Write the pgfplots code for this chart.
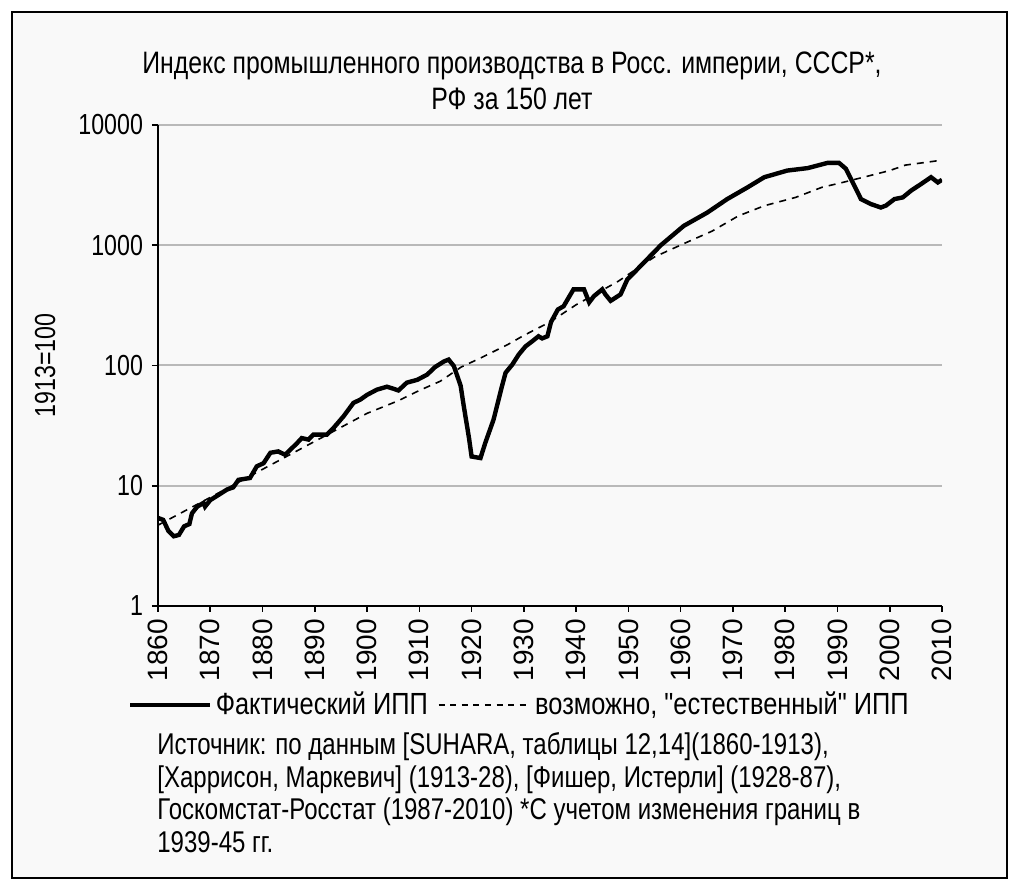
\documentclass[border=0pt]{standalone}
\usepackage{pgfplots}
\pgfplotsset{compat=1.18}
\usepackage{fontspec}
\setmainfont{Liberation Sans}[FakeStretch=0.8]
\newfontfamily\widefont{Liberation Sans}[FakeStretch=0.83]
\newfontfamily\tickfont{Liberation Sans}

% фактический индекс (1913=100)
\pgfplotstableread{
year val
1860 5.4
1861 5.2
1862 4.2
1863 3.8
1864 3.9
1865 4.6
1866 4.8
1866.5 5.9
1867.5 6.7
1868.7 7.2
1869 6.7
1870 7.6
1871.6 8.4
1873.2 9.3
1874.4 9.7
1875.4 11.2
1877.6 11.6
1878.9 14.5
1880.2 15.4
1881.5 18.8
1883 19.3
1884.3 18.1
1885.3 19.9
1886.6 22.6
1887.5 24.9
1888.8 24.2
1889.7 26.6
1892.3 26.6
1893.6 30.3
1895.5 37.8
1897.4 48.9
1898.7 52
1900 57
1901.9 63
1903.8 66.6
1905.1 64
1906 62
1907.6 72
1909.6 76
1911.5 84
1913 97
1914.7 108
1915.6 112
1916.6 99
1917.9 68
1918.5 46
1919.5 25
1920 17.5
1921.7 17
1922.6 22.6
1924.2 35.5
1925.8 67
1926.5 87
1927.8 102
1929 123
1930.3 144
1931.6 159
1932.8 175
1933.5 168
1934.5 175
1935.2 230
1936.5 292
1937.6 311
1939.5 430
1941.5 430
1942.5 335
1943.4 377
1945 430
1945.6 390
1946.6 345
1948.5 390
1949.8 520
1952.3 670
1956.2 1000
1960.6 1450
1965.1 1870
1968.9 2420
1972.8 3030
1976 3680
1980.4 4180
1984.3 4380
1988.1 4840
1990.3 4840
1991.6 4330
1993.2 3150
1994.5 2420
1996.4 2200
1998.3 2060
1999.3 2140
2000.9 2420
2002.5 2500
2004.1 2850
2006 3230
2007.9 3680
2009.2 3330
2010 3500
}\fact

% "естественный" индекс
\pgfplotstableread{
year val
1860 4.7
1870 8.0
1880 13.7
1890 23.4
1900 40
1906 51
1910 62
1914 74
1918 97
1922 117
1927 150
1930 178
1935 230
1940 320
1948 500
1955 800
1961 1050
1966 1310
1971 1750
1976 2130
1982 2500
1987 3030
1991 3330
1995 3680
2000 4180
2003 4640
2010 5100
}\natur

\begin{document}
\begin{tikzpicture}
  % фон и рамка (1 px = 0.5pt)
  \fill[white] (0pt,0pt) rectangle (512pt,-446.5pt);
  \draw[line width=1pt, fill=gray!5] (6pt,-6pt) rectangle (503.5pt,-439pt);

  \node[align=center, font=\fontsize{15.5}{16}\selectfont] at (256pt,-40.5pt)
    {Индекс промышленного производства в Росс. империи, СССР*,\\[2pt]РФ за 150 лет};

  \begin{axis}[
      at={(79pt,-303pt)}, anchor=south west,
      scale only axis, width=392pt, height=240.5pt,
      ymode=log, xmin=1860, xmax=2010, ymin=1, ymax=10000,
      axis x line*=bottom, axis y line*=left,
      axis line style={line width=1pt, -},
      xtick={1860,1870,...,2010},
      ytick={1,10,100,1000,10000},
      yticklabels={1,10,100,1000,10000},
      yminorticks=false,
      tick align=outside, major tick length=3pt,
      tick style={black, line width=0.8pt},
      ymajorgrids, grid style={gray!55, line width=1pt},
      /pgf/number format/assume math mode=true,
      /pgf/number format/1000 sep={},
      yticklabel style={font=\fontsize{14.5}{15}\selectfont, xshift=-1pt},
      xticklabel style={font=\tickfont\fontsize{14}{14}\selectfont, rotate=90, anchor=east},
      ylabel={1913=100},
      every axis y label/.style={at={(axis description cs:-0.144,0.5)}, rotate=90,
        anchor=center, font=\fontsize{14.5}{15}\selectfont},
      legend columns=2,
      legend style={at={(-0.038,-0.206)}, anchor=west, draw=none, fill=none,
        font=\widefont\fontsize{15.3}{16}\selectfont, inner sep=0pt,
        /tikz/every even column/.append style={column sep=3pt}},
    ]
    \addplot[black, line width=2.2pt,
      legend image code/.code={\draw[black, line width=1.6pt] (0pt,0pt) -- (40pt,0pt);}]
      table[x=year, y=val] {\fact};
    \addlegendentry{Фактический ИПП}
    \addplot[black, line width=0.8pt, dash pattern=on 3.5pt off 3pt,
      legend image code/.code={\draw[black, line width=0.7pt, dash pattern=on 3pt off 2.8pt] (0pt,0pt) -- (46pt,0pt);}]
      table[x=year, y=val] {\natur};
    \addlegendentry{возможно, "естественный" ИПП}
  \end{axis}

  \node[anchor=north west, align=left, inner sep=0pt,
    font=\fontsize{15}{16.3}\selectfont] at (78.5pt,-366pt)
    {Источник: по данным {[}SUHARA, таблицы 12,14{]}(1860-1913),\\
     {[}Харрисон, Маркевич{]} (1913-28), {[}Фишер, Истерли{]} (1928-87),\\
     Госкомстат-Росстат (1987-2010) *С учетом изменения границ в\\
     1939-45 гг.};
\end{tikzpicture}
\end{document}
